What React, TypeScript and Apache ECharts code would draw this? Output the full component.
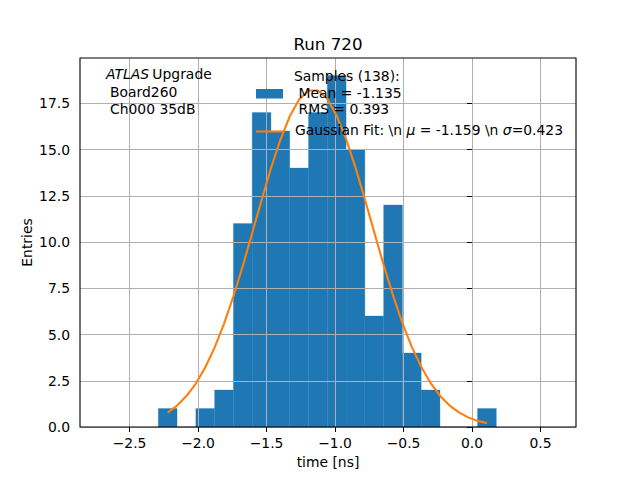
import { useRef, useEffect } from 'react';
import * as echarts from 'echarts';

// histogram: 18 bins, 138 samples
const binEdges = [
  -2.2905, -2.1534, -2.0163, -1.8792, -1.7421, -1.6050, -1.4679, -1.3308, -1.1937, -1.0566,
  -0.9195, -0.7824, -0.6453, -0.5082, -0.3711, -0.2340, -0.0969, 0.0402, 0.1773,
];
const counts = [1, 0, 1, 2, 11, 17, 16, 14, 17, 19, 15, 6, 12, 4, 2, 0, 0, 1];

// gaussian fit curve
const fitX = [
  -2.222, -2.153, -2.085, -2.016, -1.948, -1.879, -1.810, -1.742, -1.673, -1.605,
  -1.536, -1.468, -1.399, -1.330, -1.262, -1.193, -1.125, -1.056, -0.988, -0.919,
  -0.850, -0.782, -0.713, -0.645, -0.576, -0.508, -0.439, -0.370, -0.302, -0.233,
  -0.165, -0.096, -0.028, 0.041, 0.109,
];
const fitY = [
  0.78, 1.16, 1.67, 2.35, 3.22, 4.30, 5.59, 7.07, 8.72, 10.48,
  12.27, 13.99, 15.53, 16.81, 17.71, 18.19, 18.19, 17.73, 16.83, 15.56,
  14.01, 12.30, 10.51, 8.75, 7.10, 5.61, 4.32, 3.24, 2.37, 1.68,
  1.17, 0.79, 0.52, 0.33, 0.21,
];

const xTicks = [-2.5, -2.0, -1.5, -1.0, -0.5, 0.0, 0.5];
const yTicks = [0, 2.5, 5, 7.5, 10, 12.5, 15, 17.5];

const FONT = '"DejaVu Sans", sans-serif';
const BLUE = '#1f77b4';
const ORANGE = '#ff7f0e';

const fmt = (v: number, d: number) => {
  const s = Math.abs(v).toFixed(d);
  return v < 0 ? '\u2212' + s : s;
};

export default function App() {
  const ref = useRef<HTMLDivElement>(null);

  useEffect(() => {
    if (!ref.current) return;
    const chart = echarts.init(ref.current, undefined, { renderer: 'svg' });

    const axisCommon = {
      axisLine: { show: false },
      axisTick: { show: true, inside: false, length: 5, lineStyle: { color: '#000', width: 1 } },
      splitLine: { show: true, lineStyle: { color: '#b0b0b0', width: 1 } },
      z: 3,
    };

    chart.setOption({
      animation: false,
      backgroundColor: '#fff',
      title: {
        text: 'Run 720',
        left: 328, top: 35, padding: 0, textAlign: 'center',
        textStyle: { fontFamily: FONT, fontSize: 16.7, fontWeight: 'normal', color: '#000' },
      },
      grid: {
        left: 80, right: 64, top: 58, bottom: 53, show: true,
        borderColor: '#000', borderWidth: 1.1, backgroundColor: 'transparent', z: 10,
      },
      xAxis: {
        ...axisCommon,
        type: 'value', min: -2.862, max: 0.759,
        name: 'time [ns]', nameLocation: 'middle', nameGap: 27,
        nameTextStyle: { fontFamily: FONT, fontSize: 13.9, color: '#000' },
        axisTick: { ...axisCommon.axisTick, customValues: xTicks },
        axisLabel: {
          customValues: xTicks, margin: 9,
          fontFamily: FONT, fontSize: 13.9, color: '#000',
          formatter: (v: number) => fmt(v, 1),
        },
      },
      yAxis: {
        ...axisCommon,
        type: 'value', min: 0, max: 19.95,
        name: 'Entries', nameLocation: 'middle', nameGap: 46, nameRotate: 90,
        nameMoveOverlap: false,
        nameTextStyle: { fontFamily: FONT, fontSize: 13.9, color: '#000' },
        axisTick: { ...axisCommon.axisTick, customValues: yTicks },
        axisLabel: {
          customValues: yTicks, margin: 10,
          fontFamily: FONT, fontSize: 13.9, color: '#000',
          formatter: (v: number) => fmt(v, 1),
        },
      },
      series: [
        {
          type: 'custom',
          z: 1,
          data: counts.map((c, i) => [binEdges[i], binEdges[i + 1], c]),
          encode: { x: [0, 1], y: 2 },
          renderItem: (_params: any, api: any) => {
            const p0 = api.coord([api.value(0), api.value(2)]);
            const p1 = api.coord([api.value(1), 0]);
            return {
              type: 'rect',
              shape: { x: p0[0], y: p0[1], width: p1[0] - p0[0], height: p1[1] - p0[1] },
              style: { fill: BLUE, stroke: BLUE, lineWidth: 0.3 },
            };
          },
        },
        {
          type: 'line',
          z: 5,
          data: fitX.map((x, i) => [x, fitY[i]]),
          showSymbol: false,
          symbol: 'none',
          smooth: false,
          lineStyle: { color: ORANGE, width: 2.1 },
        },
      ],
      graphic: [
        {
          type: 'text', left: 106, top: 67, z: 20,
          style: {
            text: '{i|ATLAS} {n|Upgrade}',
            rich: {
              i: { fontFamily: FONT, fontSize: 13.9, fontStyle: 'italic', fill: '#000' },
              n: { fontFamily: FONT, fontSize: 13.9, fill: '#000' },
            },
          },
        },
        { type: 'text', x: 110, y: 92, z: 20, style: { text: 'Board260', font: `13.9px ${FONT}`, fill: '#000', verticalAlign: 'middle' } },
        { type: 'text', x: 110, y: 108.5, z: 20, style: { text: 'Ch000 35dB', font: `13.9px ${FONT}`, fill: '#000', verticalAlign: 'middle' } },
        // legend
        { type: 'rect', z: 20, shape: { x: 256, y: 89, width: 27, height: 9.5 }, style: { fill: BLUE } },
        { type: 'text', x: 294, y: 76, z: 20, style: { text: 'Samples (138):', font: `13.9px ${FONT}`, fill: '#000', verticalAlign: 'middle' } },
        { type: 'text', x: 298.5, y: 92.5, z: 20, style: { text: 'Mean = -1.135', font: `13.9px ${FONT}`, fill: '#000', verticalAlign: 'middle' } },
        { type: 'text', x: 298.5, y: 109.2, z: 20, style: { text: 'RMS = 0.393', font: `13.9px ${FONT}`, fill: '#000', verticalAlign: 'middle' } },
        { type: 'line', z: 20, shape: { x1: 256, y1: 131.5, x2: 283, y2: 131.5 }, style: { stroke: ORANGE, lineWidth: 2 } },
        {
          type: 'text', left: 295, top: 123, z: 20,
          style: {
            text: '{n|Gaussian Fit: \\n }{i|\u03bc}{n| = -1.159 \\n }{i|\u03c3}{n|=0.423}',
            rich: {
              i: { fontFamily: FONT, fontSize: 13.9, fontStyle: 'italic', fill: '#000' },
              n: { fontFamily: FONT, fontSize: 13.9, fill: '#000' },
            },
          },
        },
      ],
    });

    return () => chart.dispose();
  }, []);

  return (
    <div style={{ position: 'absolute', left: 0, top: 0, width: 640, height: 480 }}>
      <div ref={ref} style={{ width: 640, height: 480 }} />
    </div>
  );
}
